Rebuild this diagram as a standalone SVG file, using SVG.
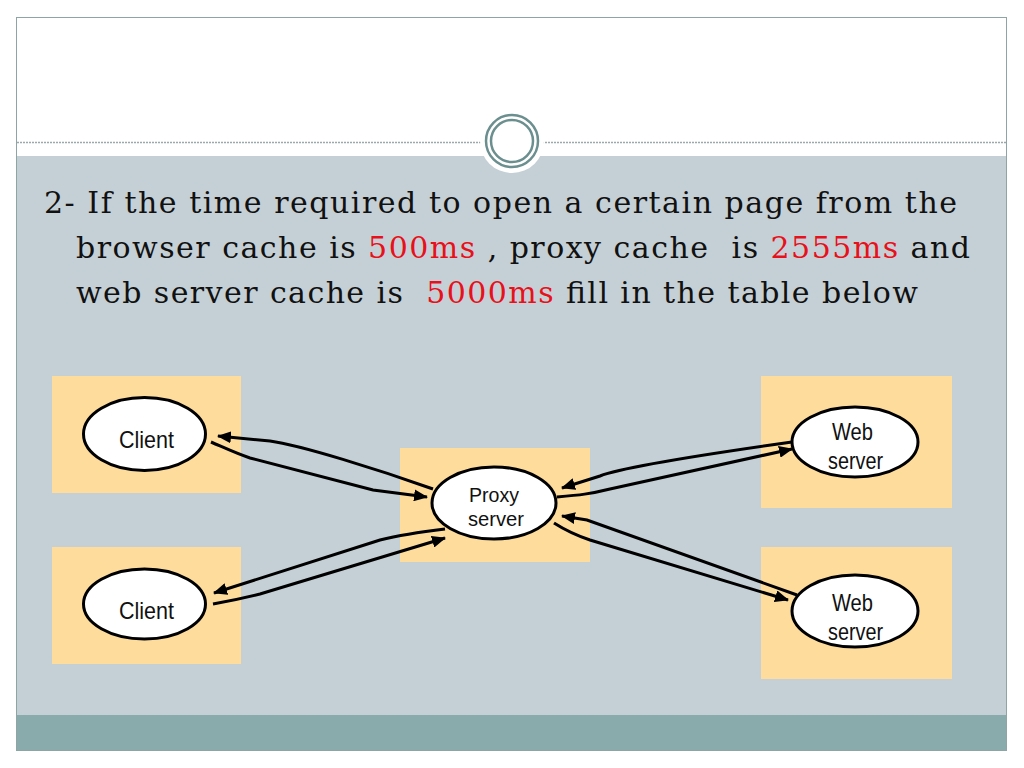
<svg xmlns="http://www.w3.org/2000/svg" width="1024" height="768" viewBox="0 0 1024 768">
<defs>
<style>
.box{fill:#fddc9c}
.ell{fill:#ffffff;stroke:#000;stroke-width:3}
.lbl{font-family:"Liberation Sans",Arial,sans-serif;font-size:24px;fill:#111;text-anchor:middle}
.lbs{font-family:"Liberation Sans",Arial,sans-serif;font-size:21px;fill:#111;text-anchor:middle}
.conn{fill:none;stroke:#000;stroke-width:3;marker-end:url(#ah)}
.title{font-family:"DejaVu Serif","Liberation Serif",serif;font-size:30px;fill:#111;white-space:pre}
.red{fill:#e8101a}
.ring{fill:none;stroke:#6b8e8e;stroke-width:2.5}
</style>
<marker id="ah" markerUnits="userSpaceOnUse" markerWidth="14" markerHeight="12" refX="13" refY="6" orient="auto">
<path d="M0,0 L14,6 L0,12 Z" fill="#000"/>
</marker>
</defs>
<rect x="0" y="0" width="1024" height="768" fill="#ffffff"/>
<g id="frame">
<rect x="16.5" y="17.5" width="990" height="733" fill="#ffffff" stroke="#8fa5a5" stroke-width="1"/>
<rect x="17" y="156" width="989" height="559" fill="#c5d0d6"/>
<rect x="17" y="715" width="989" height="35" fill="#8aabab"/>
<line x1="17" y1="142.5" x2="1006" y2="142.5" stroke="#9aaaaa" stroke-width="1.5" stroke-dasharray="2,1"/>
<circle cx="512" cy="141" r="32" fill="#ffffff"/>
<circle cx="512" cy="141" r="26" class="ring"/>
<circle cx="512" cy="141" r="21" class="ring"/>
</g>
<g id="title">
<text class="title" x="44" y="213" textLength="913">2- If the time required to open a certain page from the</text>
<text class="title" x="76" y="258" textLength="894">browser cache is <tspan class="red">500ms</tspan> , proxy cache  is <tspan class="red">2555ms</tspan> and</text>
<text class="title" x="76" y="303" textLength="842">web server cache is  <tspan class="red">5000ms</tspan> fill in the table below</text>
</g>
<g id="client1">
<rect class="box" x="52" y="376" width="189" height="117"/>
<ellipse class="ell" cx="144.5" cy="434" rx="61" ry="36.5"/>
<text class="lbl" x="146.5" y="448" textLength="55" lengthAdjust="spacingAndGlyphs">Client</text>
</g>
<g id="client2">
<rect class="box" x="52" y="547" width="189" height="117"/>
<ellipse class="ell" cx="144.5" cy="604" rx="61" ry="35"/>
<text class="lbl" x="146.5" y="619" textLength="55" lengthAdjust="spacingAndGlyphs">Client</text>
</g>
<g id="proxy">
<rect class="box" x="400" y="448" width="190" height="114"/>
<ellipse class="ell" cx="494" cy="503" rx="62" ry="36"/>
<text class="lbs" x="494" y="502" textLength="50" lengthAdjust="spacingAndGlyphs">Proxy</text>
<text class="lbs" x="496" y="526" textLength="56" lengthAdjust="spacingAndGlyphs">server</text>
</g>
<g id="web1">
<rect class="box" x="761" y="376" width="191" height="132"/>
<ellipse class="ell" cx="855" cy="442" rx="63" ry="35"/>
<text class="lbl" x="852.5" y="440" textLength="41" lengthAdjust="spacingAndGlyphs">Web</text>
<text class="lbl" x="855.5" y="469" textLength="55" lengthAdjust="spacingAndGlyphs">server</text>
</g>
<g id="web2">
<rect class="box" x="761" y="547" width="191" height="132"/>
<ellipse class="ell" cx="855" cy="611" rx="63" ry="36"/>
<text class="lbl" x="852.5" y="611" textLength="41" lengthAdjust="spacingAndGlyphs">Web</text>
<text class="lbl" x="855.5" y="640" textLength="55" lengthAdjust="spacingAndGlyphs">server</text>
</g>
<g id="connectors">
<path class="conn" d="M433,489 C380,470 300,445 270,441 L218,436"/>
<path class="conn" d="M211,442 C225,448 235,453 250,458 L373,490 L427,497"/>
<path class="conn" d="M445,529 C420,532 400,535 380,540 L214,593"/>
<path class="conn" d="M213,604 C230,601 240,599 260,594 L445,538"/>
<path class="conn" d="M792,442 C700,455 620,468 600,476 L562,488"/>
<path class="conn" d="M557,497 C580,495 590,494 610,489 L792,449"/>
<path class="conn" d="M797,595 L587,520 L562,516"/>
<path class="conn" d="M554,523 C565,530 575,535 590,540 L788,600"/>
</g>
</svg>
